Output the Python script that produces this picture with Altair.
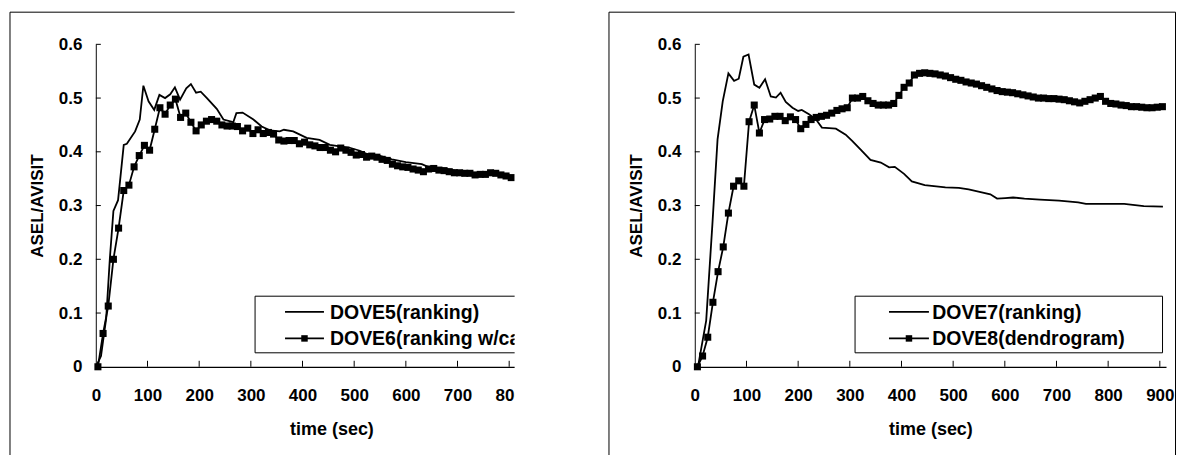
import altair as alt
import pandas as pd

FONT = "Liberation Sans"

X_TICKS = [0, 100, 200, 300, 400, 500, 600, 700, 800, 900]
Y_TICKS = [0, 0.1, 0.2, 0.3, 0.4, 0.5, 0.6]
X_MAX = 912

LEFT_NAMES = ["DOVE5(ranking)", "DOVE6(ranking w/cache)"]
RIGHT_NAMES = ["DOVE7(ranking)", "DOVE8(dendrogram)"]

# ---- left panel ----
dove5_t = [0, 10, 20, 27, 34, 43, 54, 60, 76, 85, 92, 102, 113, 123, 134, 144, 153, 163, 175, 184,
           194, 203, 215, 234, 247, 262, 266, 272, 284, 305, 321, 337, 356, 364, 382, 395, 408, 433,
           453, 472, 490, 511, 525, 545, 573, 600, 631, 645, 676, 711, 745, 766, 793, 807]
dove5_v = [0, 0.02, 0.09, 0.2, 0.29, 0.31, 0.413, 0.415, 0.438, 0.46, 0.523, 0.494, 0.478, 0.506,
           0.50, 0.507, 0.52, 0.497, 0.518, 0.526, 0.51, 0.512, 0.50, 0.48, 0.46, 0.456, 0.455, 0.472,
           0.473, 0.46, 0.447, 0.44, 0.438, 0.441, 0.438, 0.432, 0.426, 0.422, 0.413, 0.41, 0.408,
           0.402, 0.396, 0.394, 0.386, 0.381, 0.377, 0.371, 0.368, 0.363, 0.358, 0.363, 0.358, 0.353]

dove6_t = [4, 14, 24, 34, 44, 54, 64, 74, 84, 94, 104, 114, 124, 134, 144, 154, 164, 174, 184, 194,
           204, 214, 224, 234, 244, 254, 264, 274, 284, 294, 304, 314, 324, 334, 344, 354, 364, 374,
           384, 394, 404, 414, 424, 434, 444, 454, 464, 474, 484, 494, 504, 514, 524, 534, 544, 554,
           564, 574, 584, 594, 604, 614, 624, 634, 644, 654, 664, 674, 684, 694, 704, 714, 724, 734,
           744, 754, 764, 774, 784, 794, 804]
dove6_v = [0, 0.062, 0.113, 0.2, 0.258, 0.328, 0.338, 0.372, 0.393, 0.412, 0.403, 0.442, 0.482,
           0.47, 0.487, 0.498, 0.464, 0.472, 0.455, 0.439, 0.45, 0.457, 0.46, 0.457, 0.45, 0.448,
           0.448, 0.447, 0.439, 0.444, 0.434, 0.441, 0.434, 0.436, 0.433, 0.422, 0.420, 0.421, 0.421,
           0.415, 0.418, 0.413, 0.411, 0.408, 0.408, 0.403, 0.40, 0.407, 0.403, 0.399, 0.394, 0.395,
           0.39, 0.392, 0.39, 0.386, 0.384, 0.377, 0.374, 0.372, 0.371, 0.368, 0.366, 0.363, 0.368,
           0.369, 0.366, 0.365, 0.363, 0.361, 0.361, 0.36, 0.36, 0.357, 0.358, 0.358, 0.361, 0.36,
           0.357, 0.355, 0.352]

# ---- right panel ----
dove7_t = [0, 7, 22, 34, 44, 54, 65, 76, 85, 94, 104, 115, 125, 136, 147, 157, 166, 176, 189, 200,
           207, 221, 234, 246, 260, 273, 292, 305, 321, 340, 360, 376, 387, 405, 420, 445, 485, 511,
           530, 549, 572, 585, 601, 616, 638, 668, 705, 742, 757, 794, 831, 869, 906]
dove7_v = [0, 0.005, 0.086, 0.265, 0.423, 0.494, 0.546, 0.532, 0.536, 0.577, 0.581, 0.525, 0.519,
           0.535, 0.503, 0.501, 0.51, 0.493, 0.482, 0.476, 0.478, 0.47, 0.461, 0.445, 0.444, 0.443,
           0.432, 0.42, 0.404, 0.385, 0.38, 0.371, 0.372, 0.359, 0.345, 0.338, 0.334, 0.333, 0.33,
           0.326, 0.321, 0.313, 0.314, 0.315, 0.313, 0.311, 0.309, 0.306, 0.303, 0.303, 0.303,
           0.299, 0.298]

dove8_t = [5, 15, 25, 35, 45, 55, 65, 75, 85, 95, 105, 115, 125, 135, 145, 155, 165, 175, 185, 195,
           205, 215, 225, 235, 245, 255, 265, 275, 285, 295, 305, 315, 325, 335, 345, 355, 365, 375,
           385, 395, 405, 415, 425, 435, 445, 455, 465, 475, 485, 495, 505, 515, 525, 535, 545, 555,
           565, 575, 585, 595, 605, 615, 625, 635, 645, 655, 665, 675, 685, 695, 705, 715, 725, 735,
           745, 755, 765, 775, 785, 795, 805, 815, 825, 835, 845, 855, 865, 875, 885, 895, 905]
dove8_v = [0, 0.02, 0.055, 0.12, 0.177, 0.223, 0.286, 0.336, 0.346, 0.336, 0.456, 0.487, 0.435,
           0.46, 0.461, 0.466, 0.466, 0.458, 0.465, 0.46, 0.443, 0.451, 0.46, 0.464, 0.466, 0.468,
           0.472, 0.477, 0.48, 0.482, 0.5, 0.5, 0.503, 0.495, 0.49, 0.487, 0.487, 0.487, 0.49, 0.505,
           0.52, 0.528, 0.543, 0.546, 0.547, 0.546, 0.545, 0.543, 0.541, 0.538, 0.535, 0.533, 0.53,
           0.528, 0.526, 0.523, 0.52, 0.517, 0.514, 0.512, 0.511, 0.51, 0.508, 0.506, 0.504, 0.502,
           0.5, 0.5, 0.499, 0.499, 0.498, 0.497, 0.495, 0.493, 0.491, 0.494, 0.497, 0.5, 0.503, 0.494,
           0.49, 0.489, 0.487, 0.486, 0.484, 0.484, 0.483, 0.482, 0.482, 0.483, 0.484]

W, H = 472, 323
BLACK = "#000000"
BOTTOM = 420


def one_row(**kw):
    d = {"k": [0]}
    for key, val in kw.items():
        d[key] = [val]
    return pd.DataFrame(d)


def make_panel(line_t, line_v, sq_t, sq_v, names, crop):
    xs = alt.Scale(domain=[0, X_MAX], nice=False, zero=False)
    ys = alt.Scale(domain=[0, 0.6], nice=False)
    x_axis = alt.Axis(values=X_TICKS, title="time (sec)", grid=False, ticks=False, tickSize=0,
                      domainColor=BLACK, domainWidth=1.3, labelColor=BLACK, labelFont=FONT,
                      labelFontSize=17, labelFontWeight="bold", labelPadding=34,
                      labelBaseline="alphabetic", labelFlush=False, labelOverlap=False,
                      titleFont=FONT, titleFontSize=18, titleFontWeight="bold", titleColor=BLACK,
                      titleBaseline="alphabetic", titleY=68)
    y_axis = alt.Axis(values=Y_TICKS, format=".1~f", title="ASEL/AVISIT", grid=False, ticks=False,
                      tickSize=0, domainColor="#333333", domainWidth=1.2, labelColor=BLACK,
                      labelFont=FONT, labelFontSize=17, labelFontWeight="bold", labelPadding=14,
                      labelFlush=False, labelOverlap=False,
                      titleFont=FONT, titleFontSize=17, titleFontWeight="bold", titleColor=BLACK,
                      titleAngle=270, titleAlign="center", titleBaseline="alphabetic",
                      titleX=-53, titleY=H / 2)

    def X(field):
        return alt.X(field, scale=xs, axis=x_axis)

    def Y(field):
        return alt.Y(field, scale=ys, axis=y_axis)

    line_df = pd.DataFrame({"t": line_t, "v": line_v})
    sq_df = pd.DataFrame({"t": sq_t, "v": sq_v})

    layers = []
    # panel border
    right_x = 430 if crop else 481.5
    layers.append(alt.Chart(one_row()).mark_rule(color=BLACK, strokeWidth=1).encode(
        x=alt.value(-86), x2=alt.value(right_x), y=alt.value(-32.2)))
    layers.append(alt.Chart(one_row()).mark_rule(color=BLACK, strokeWidth=1).encode(
        x=alt.value(-86), y=alt.value(-32.2), y2=alt.value(BOTTOM)))
    if not crop:
        layers.append(alt.Chart(one_row()).mark_rule(color=BLACK, strokeWidth=1).encode(
            x=alt.value(481.5), y=alt.value(-32.2), y2=alt.value(BOTTOM)))

    # data
    layers.append(alt.Chart(line_df).mark_line(color=BLACK, strokeWidth=1.8).encode(
        x=X("t:Q"), y=Y("v:Q")))
    layers.append(alt.Chart(sq_df).mark_line(color=BLACK, strokeWidth=1.8).encode(
        x=X("t:Q"), y=Y("v:Q")))
    layers.append(alt.Chart(sq_df).mark_square(color=BLACK, size=50, opacity=1).encode(
        x=X("t:Q"), y=Y("v:Q")))

    # inner ticks
    ytick_df = pd.DataFrame({"v": Y_TICKS[1:]})
    xtick_df = pd.DataFrame({"t": X_TICKS[1:]})
    layers.append(alt.Chart(ytick_df).mark_rule(color=BLACK, strokeWidth=1).encode(
        y=Y("v:Q"), x=alt.value(0), x2=alt.value(5)))
    layers.append(alt.Chart(xtick_df).mark_rule(color=BLACK, strokeWidth=1).encode(
        x=X("t:Q"), y=alt.value(H), y2=alt.value(H - 6)))

    # legend
    if crop:
        bx, bx2, lx1, lx2, tx = 159.5, 500, 189.5, 228.5, 234.5
    else:
        bx, bx2, lx1, lx2, tx = 160.5, 468.5, 194.5, 234.5, 237.8
    r1, r2 = 268, 294.6
    layers.append(alt.Chart(one_row()).mark_rect(fill="white", stroke=BLACK, strokeWidth=1).encode(
        x=alt.value(bx), x2=alt.value(bx2), y=alt.value(252.3), y2=alt.value(309)))
    for ry in (r1, r2):
        layers.append(alt.Chart(one_row()).mark_rule(color=BLACK, strokeWidth=1.8).encode(
            x=alt.value(lx1), x2=alt.value(lx2), y=alt.value(ry)))
    layers.append(alt.Chart(one_row()).mark_square(color=BLACK, size=42, opacity=1).encode(
        x=alt.value((lx1 + lx2) / 2), y=alt.value(r2)))
    for name, ry in zip(names, (r1, r2)):
        layers.append(alt.Chart(one_row(name=name)).mark_text(
            align="left", baseline="alphabetic", font=FONT, fontSize=19.5, fontWeight="bold",
            color=BLACK).encode(text="name:N", x=alt.value(tx), y=alt.value(ry + 7)))

    # crop of the left figure
    if crop:
        layers.append(alt.Chart(one_row()).mark_rect(fill="white", strokeWidth=0).encode(
            x=alt.value(419.5), x2=alt.value(505), y=alt.value(-45), y2=alt.value(BOTTOM)))

    return alt.layer(*layers).properties(width=W, height=H)


left = make_panel(dove5_t, dove5_v, dove6_t, dove6_v, LEFT_NAMES, True)
right = make_panel(dove7_t, dove7_v, dove8_t, dove8_v, RIGHT_NAMES, False)

chart = alt.hconcat(left, right, spacing=128, bounds="flush").properties(
    padding={"left": 1, "top": -9, "right": 0, "bottom": 0}
).configure(font=FONT).configure_view(strokeWidth=0)

chart.save("out.html", embed_options={"renderer": "svg", "actions": False})
